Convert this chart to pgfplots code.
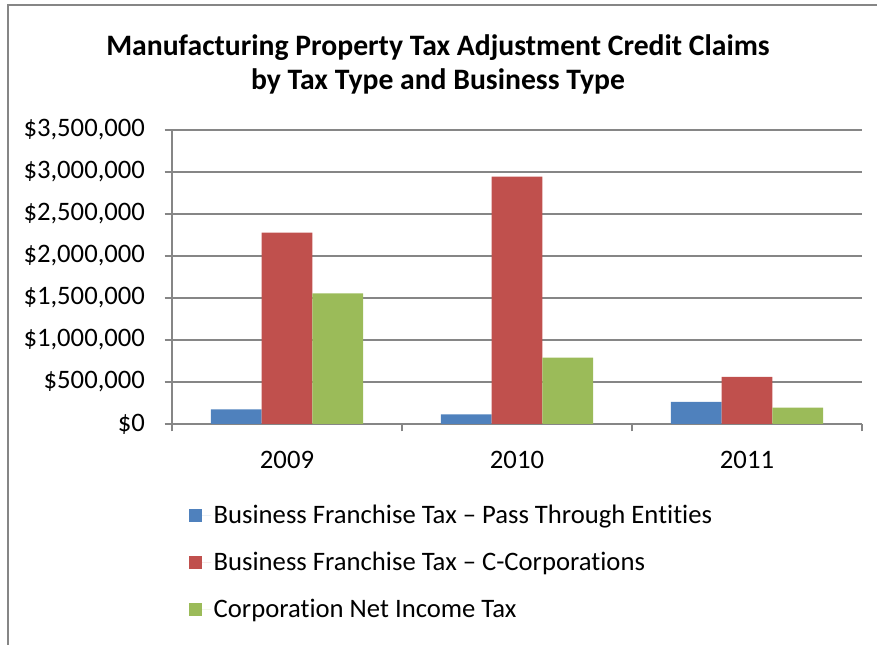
\documentclass[border=0pt]{standalone}
\usepackage{pgfplots}
\pgfplotsset{compat=1.18}
\usepackage{fontspec}
\setmainfont{Carlito}[Ligatures=NoCommon]
\definecolor{sblue}{HTML}{4F81BD}
\definecolor{sred}{HTML}{C0504D}
\definecolor{sgreen}{HTML}{9BBB59}
\definecolor{gridgray}{HTML}{868686}
\begin{document}
\begin{tikzpicture}
\useasboundingbox (0,0) rectangle (657.75pt,483.75pt);
\draw[gridgray, line width=1.1pt] (6pt,0pt) -- (6pt,480pt) -- (657.75pt,480pt);
\node[font=\bfseries\fontsize{22.25}{25.5}\selectfont, align=center] at (328.5pt,435.5pt)
  {Manufacturing Property Tax Adjustment Credit Claims\\by Tax Type and Business Type};
\begin{axis}[
  at={(129pt,165.75pt)}, anchor=south west,
  scale only axis, width=517.5pt, height=220.5pt,
  xmin=-0.5, xmax=2.5, ymin=0, ymax=3500000,
  axis lines=left, axis line style={-, gridgray, line width=1pt},
  tick align=outside, major tick length=5.5pt,
  every tick/.style={gridgray, line width=1pt},
  xtick={-0.5,0.5,1.5,2.5}, xticklabels={},
  extra x ticks={0,1,2}, extra x tick labels={2009,2010,2011},
  extra x tick style={major tick length=0pt, grid=none, xticklabel style={yshift=-16.5pt}},
  ytick={0,500000,1000000,1500000,2000000,2500000,3000000,3500000},
  yticklabels={{\$0},{\$500,000},{\$1,000,000},{\$1,500,000},{\$2,000,000},{\$2,500,000},{\$3,000,000},{\$3,500,000}},
  yticklabel style={xshift=-11.25pt},
  ymajorgrids, major grid style={gridgray, line width=1pt},
  tick label style={font=\fontsize{20}{24}\selectfont},
  scaled y ticks=false,
  ybar, bar width=0.2205,
  legend cell align=left,
  legend style={draw=none, at={(0.0243,-0.267)}, anchor=north west,
    font=\fontsize{20}{24}\selectfont, row sep=15.75pt, inner sep=0pt},
  legend image code/.code={\path (0pt,0pt) -- (16.5pt,0pt); \fill[#1, draw=none] (0pt,-4.75pt) rectangle (9.75pt,4.75pt);},
]
\addplot[fill=sblue, draw=none, bar shift=-0.2205] coordinates {(0,175000) (1,115000) (2,262000)};
\addplot[fill=sred, draw=none, bar shift=0] coordinates {(0,2278000) (1,2945000) (2,560000)};
\addplot[fill=sgreen, draw=none, bar shift=0.2205] coordinates {(0,1556000) (1,789000) (2,194000)};
\legend{Business Franchise Tax -- Pass Through Entities, Business Franchise Tax -- C-Corporations, Corporation Net Income Tax}
\end{axis}
\end{tikzpicture}
\end{document}
